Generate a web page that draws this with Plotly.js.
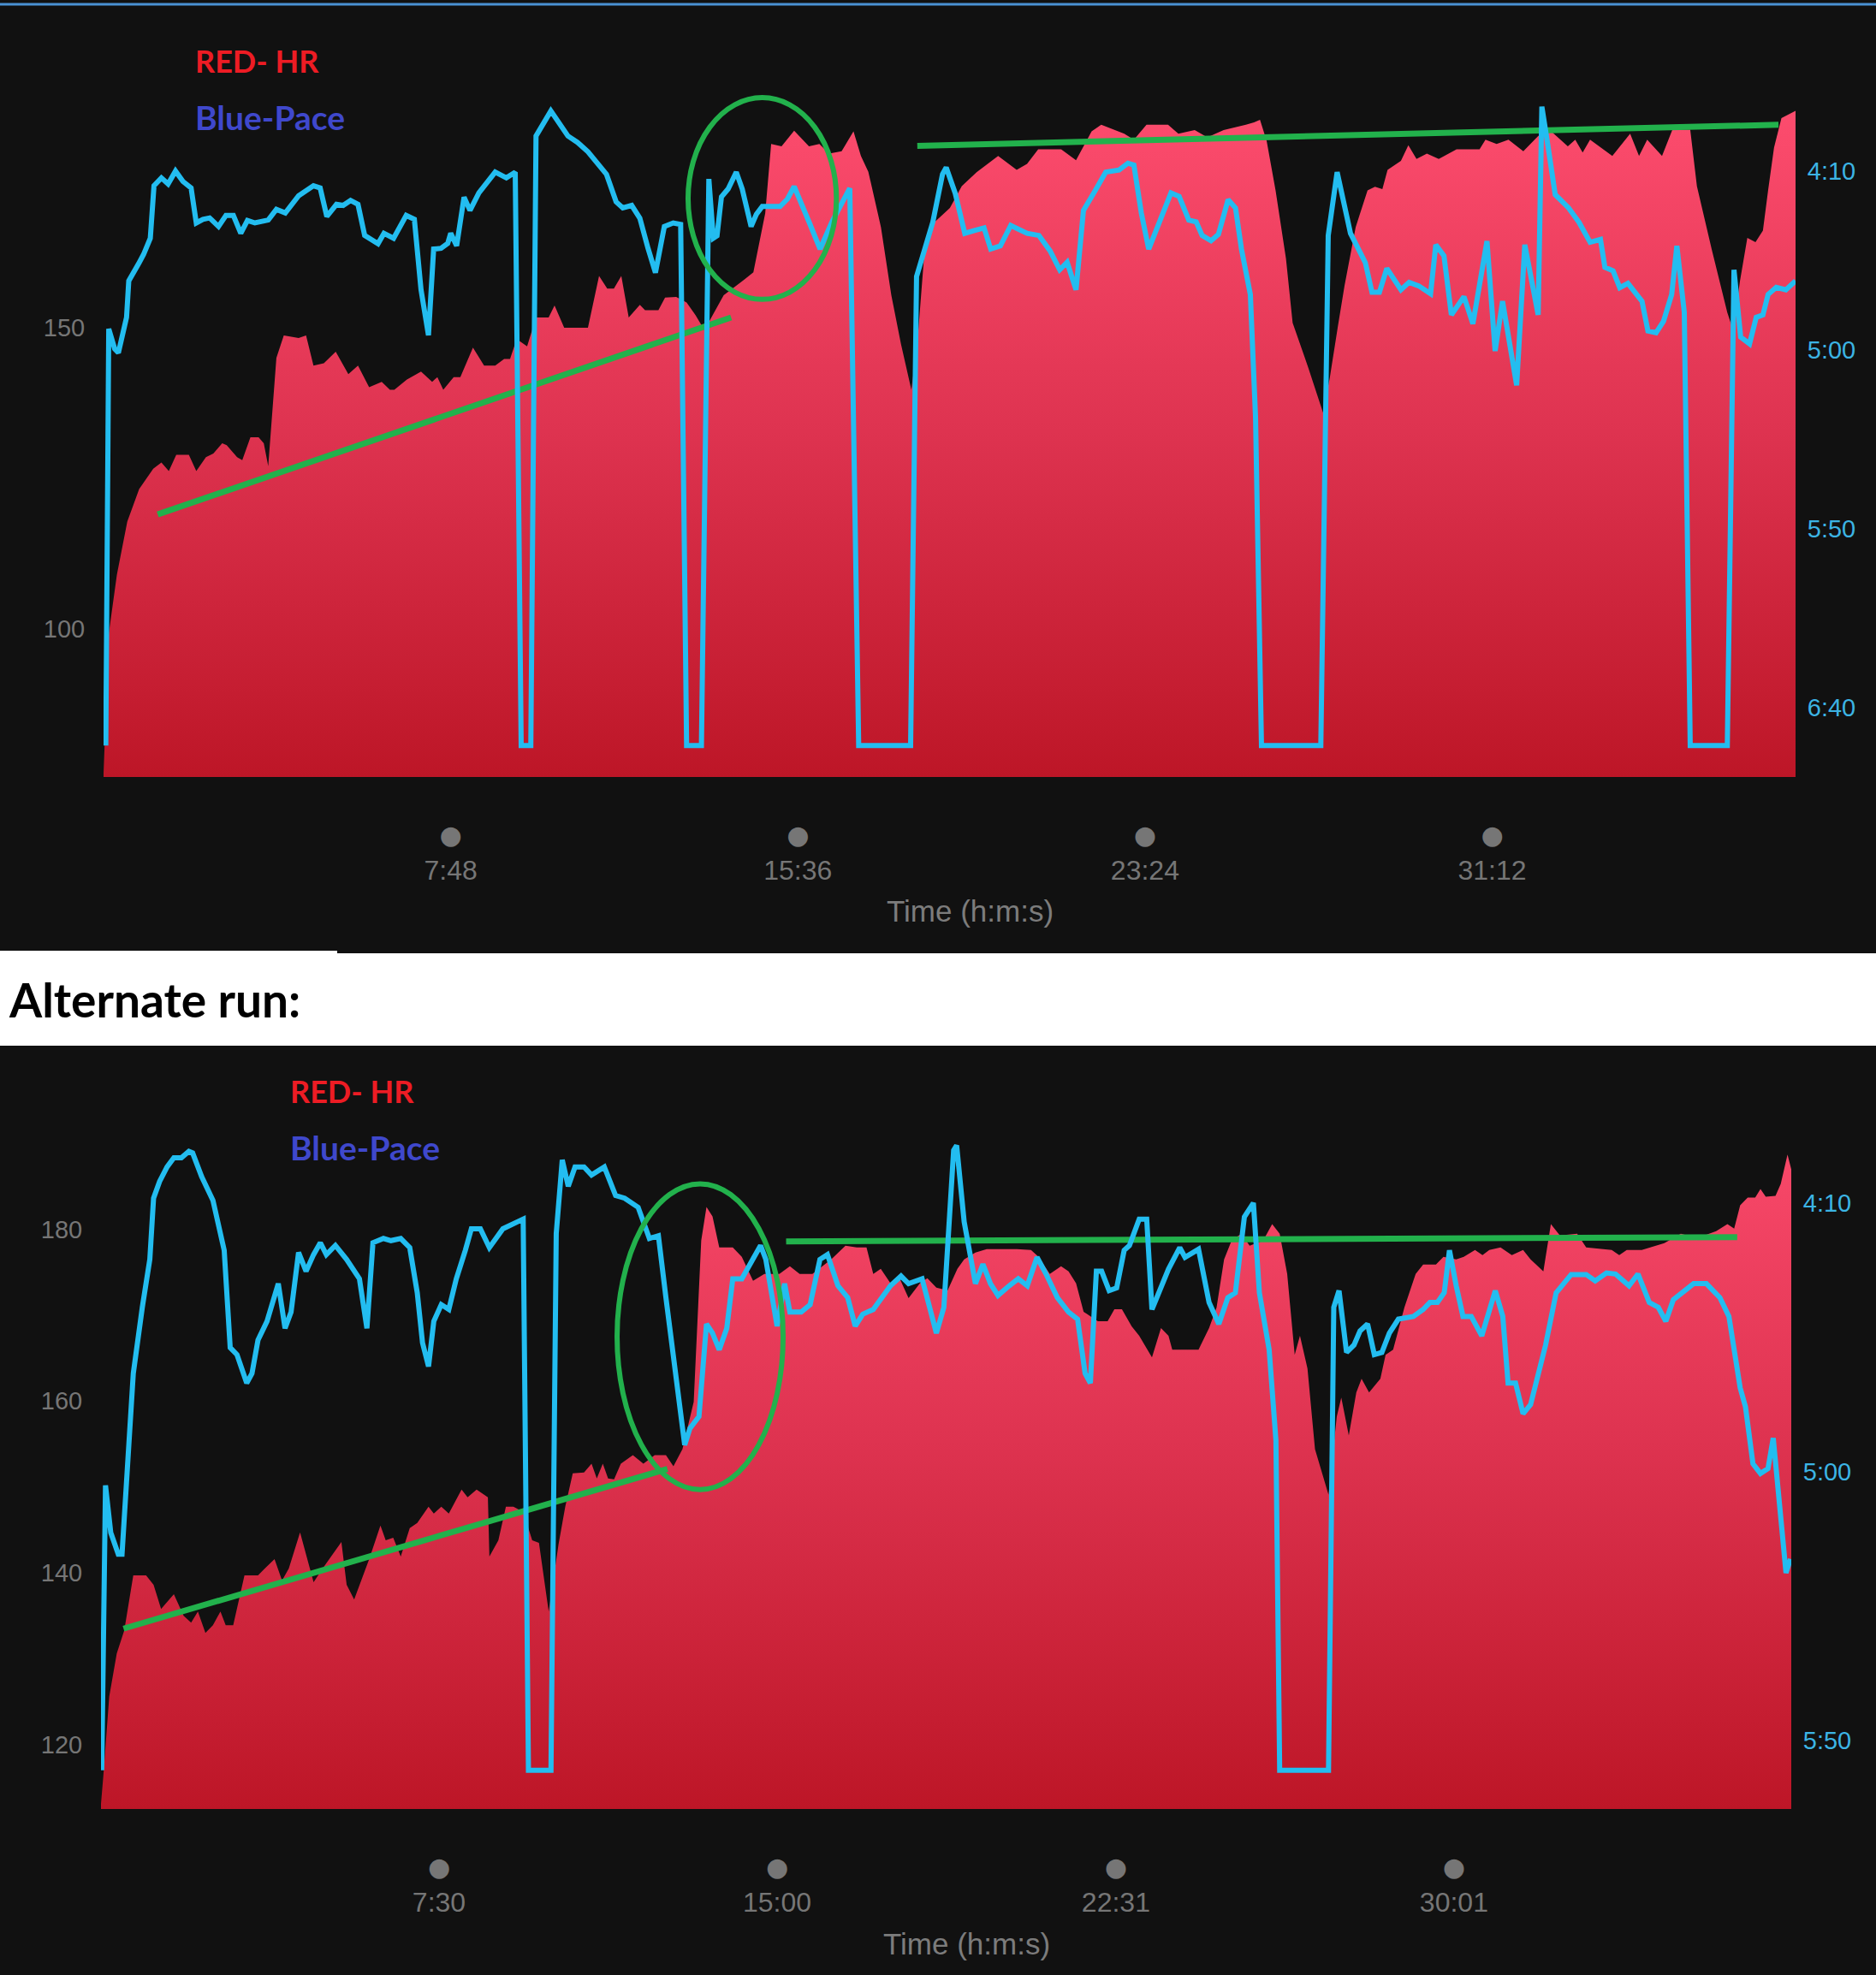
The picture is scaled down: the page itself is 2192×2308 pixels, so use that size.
<!DOCTYPE html>
<html>
<head>
<meta charset="utf-8">
<script src="https://cdn.plot.ly/plotly-3.0.1.min.js"></script>
<style>
html, body { margin: 0; padding: 0; background: #111111; }
#chart { width: 2192px; height: 2308px; }
</style>
</head>
<body>
<div id="chart"></div>
<script>
// ---------------- DATA (time in seconds, HR in bpm, pace in seconds per km) ----------------
// Top run
const topTimeHR = [0,7,18,32,48,67,78,88,98,115,125,138,148,160,166,180,187,198,209,216,222,233,243,263,273,283,297,313,330,343,358,375,386,392,409,428,443,450,458,472,481,498,513,528,540,548,557,571,583,600,608,621,653,668,679,688,698,708,723,730,748,757,772,786,798,810,836,863,876,892,900,914,931,951,965,978,995,1011,1021,1031,1048,1062,1075,1089,1097,1106,1121,1141,1157,1177,1206,1231,1245,1260,1291,1311,1332,1345,1376,1389,1406,1435,1449,1471,1488,1510,1540,1551,1559,1568,1580,1594,1603,1624,1644,1653,1664,1673,1688,1704,1714,1724,1731,1749,1759,1770,1784,1800,1824,1855,1863,1878,1894,1914,1934,1949,1974,1984,1994,2004,2034,2058,2070,2081,2101,2115,2139,2148,2168,2189,2197,2206,2216,2227,2237,2244,2252,2262,2281];
const topHR = [76,99.2,109,117.8,123.2,126.6,127.6,126.2,128.9,128.9,126.2,128.5,129.1,130.8,130.5,128.5,128,131.8,131.8,130.8,127,145,148.7,148.3,148.7,143.7,144.1,146,142.3,143.7,140.1,141,139.7,139.7,141.4,142.7,141,141.8,139.7,141.8,141.8,146.7,143.7,143.7,144.8,144.8,148.1,146.9,151.7,151.7,153.7,150,150,158.6,156.5,156.5,158.6,151.7,153.8,152.9,152.9,155,155.1,154.2,152.1,149.6,155.4,157.9,159.2,169,180.5,180.1,182.7,180.1,180.5,178.9,179.3,182.6,178.5,175.9,166.7,155.4,147.3,139.7,147.3,161.5,167.6,169.9,173.5,175.8,178.5,176.2,177.2,179.6,179.6,177.8,182.6,183.7,182.2,181.2,183.7,183.7,182.2,182.8,181.6,182.8,183.7,184.1,184.5,181,172.8,161.5,150.8,143.4,135.9,141.6,150.2,157,166.7,172.8,173.4,173,176.2,177.7,180.3,178,178.9,178,179.6,179.6,181.2,180.5,181.2,179.3,181.8,182.9,180.1,181.2,179.1,181.2,178.5,182.2,178.5,181.2,178.5,182.9,182.9,173.5,163,152.5,149.5,157.7,164.9,164.2,166.1,172.8,179.9,184.8,186];
const topTimePace = [3,7,15,20,31,34,48,54,63,68,78,87,97,107,118,125,134,143,155,165,175,185,194,204,222,233,245,263,283,292,301,314,323,333,343,352,370,378,391,408,419,428,438,445,455,464,468,476,486,494,506,528,543,555,563,576,583,603,626,639,653,678,691,700,712,723,734,744,756,768,778,786,806,816,822,827,833,842,853,861,873,880,888,912,922,931,951,966,982,1006,1018,1088,1096,1106,1118,1131,1136,1148,1161,1174,1187,1196,1209,1223,1245,1261,1276,1289,1299,1311,1321,1337,1351,1369,1381,1389,1399,1409,1427,1439,1450,1463,1473,1481,1493,1503,1516,1526,1534,1546,1553,1561,1641,1651,1663,1681,1701,1710,1720,1730,1749,1760,1773,1789,1796,1807,1817,1834,1846,1865,1876,1886,1905,1916,1934,1939,1946,1957,1975,1989,2004,2018,2024,2035,2044,2055,2074,2082,2093,2103,2114,2121,2131,2139,2189,2198,2207,2219,2228,2237,2244,2255,2268,2281];
const topPace = [410.5,294,299.6,300.7,290.8,280.6,275.5,273.2,268.7,254,251.8,253.5,249.9,252.8,254.6,264.4,263.4,263,265.4,262.3,262.3,267.3,263.7,264.4,263.6,260.6,261.6,256.8,254,254.6,262.6,259.2,259.5,258.1,259.2,267.9,270.2,267.3,268.7,262.3,263.4,283.1,295.8,271.7,271.5,270.1,267.3,270.8,257.2,260.9,256,250.2,251.8,250.2,410.5,410.5,240.1,233.1,240.1,241.9,244.5,250.8,258.5,260.2,259.5,263.1,271.5,278.3,265.4,264.4,264.8,410.5,410.5,252.1,268.7,268,257.1,254.9,250.2,254.9,265.4,262,259.8,259.8,257.7,254.2,264.1,271.7,264.1,254.7,410.5,410.5,279.4,272.9,264.1,250.8,248.9,256,267.3,266.5,265.8,271.7,270.8,265.1,267.3,267.9,272.2,277.5,275.4,283.1,260.9,255.3,250.2,249.6,247.7,248.2,261.6,271.7,262,256,257,263.6,264.1,267.9,269.4,267.6,257.9,260.2,271.7,284.4,318.6,410.5,410.5,267.9,250.2,267.3,275.5,283.8,283.8,277.1,283.1,281,282,284.2,270.5,273.6,290.1,285,292.6,269.5,300.2,286.3,309.8,270.5,290.1,231.9,241.2,256.5,260.2,264.2,269.8,269,276.8,277.8,282.5,281.3,286.3,294.6,295.1,291.9,284.4,270.8,289.4,410.5,410.5,277.5,296.3,298.2,290.8,290.1,284.4,282.4,283.1,280.6];
const topTickSeconds = [468, 936, 1404, 1872];
const topTickLabels = ['7:48', '15:36', '23:24', '31:12'];
const topHRTicks = [100, 150];
const topPaceTicks = [250, 300, 350, 400];
// green hand-drawn overlays (time, HR)
const topTrendAT = [73, 846];
const topTrendAHR = [119.0, 151.7];
const topTrendBT = [1097, 2258];
const topTrendBHR = [180.2, 183.7];
const topCircleT = [788, 988];
const topCircleHR = [154.7, 188.2];

// Alternate run
const botTimeHR = [0,3,11,21,31,43,60,70,80,97,110,120,129,139,149,159,166,176,191,209,218,231,241,250,265,283,295,320,327,337,357,372,379,389,399,411,421,436,443,453,463,480,488,500,515,517,529,539,549,562,574,583,594,596,609,618,628,643,653,660,668,675,683,692,708,722,737,752,762,774,789,799,806,814,823,841,853,868,883,903,917,930,947,972,991,1006,1019,1028,1038,1051,1063,1075,1090,1100,1112,1127,1140,1149,1164,1179,1219,1238,1248,1263,1278,1288,1298,1308,1327,1340,1349,1359,1372,1382,1399,1411,1421,1426,1461,1475,1485,1495,1505,1518,1529,1547,1559,1569,1579,1589,1596,1606,1616,1634,1645,1651,1661,1671,1678,1688,1703,1710,1720,1735,1750,1760,1777,1787,1804,1814,1829,1839,1848,1863,1878,1893,1903,1920,1930,1942,1965,1977,2011,2021,2031,2051,2081,2103,2125,2150,2165,2174,2182,2192,2202,2209,2216,2229,2236,2245,2250];
const botHR = [113.1,116.2,125.6,130.6,133.3,139.7,139.7,138.6,135.8,137.5,135,134.2,135.5,133,133.9,135.5,133.9,133.9,139.7,139.7,140.5,141.6,139.1,140.5,144.7,138.9,140.5,143.6,138.6,136.9,141.6,145.5,143.8,144.1,141.9,145.2,145.8,147.7,146.9,147.7,146.9,149.7,148.8,149.7,148.8,141.9,143.8,147.7,147.7,147.1,143.8,143.5,136.7,135.5,143.3,147.7,151.6,151.7,152.7,151,152.7,151,150.9,152.7,153.7,152.7,153.7,153.7,152.4,154.4,159.9,178.7,182.6,181.5,177.9,177.9,176.8,174,174.8,174.8,175.7,174.8,174.8,176.5,178.1,177.9,177.9,174.8,175.4,173.7,174.3,172,173.7,174.3,173.2,172.9,175.4,176.5,177.3,177.7,177.7,177.6,176.8,174.8,175.7,175.1,173.7,170.4,169.3,169.3,170.7,170.7,168.7,167.6,165.1,168.5,167.6,166,166,168.5,170.9,176.5,178.7,179.5,178.1,178.7,180.6,179.5,174.8,165.4,167.6,163.8,154.4,149.1,158.2,160.4,156,161,162.6,161,162.6,165.4,166,170.9,174.8,175.9,175.9,176.8,176.5,176.8,177.6,177,177.6,177.9,177,177.6,176.5,175.1,180.6,179.3,179.5,177.9,177.6,177,177.6,177.6,178.4,179.5,179,179.8,180.6,180.1,182.8,183.7,183.7,184.7,183.8,183.9,185.3,188.7,187];
const botTimePace = [1,6,13,18,23,28,36,43,55,65,70,78,88,97,107,117,122,134,149,164,172,181,194,201,209,221,236,245,253,263,273,283,292,300,312,327,344,354,362,376,386,399,411,421,428,436,443,453,463,473,485,493,505,517,535,552,562,569,599,606,614,622,631,643,653,670,685,697,715,730,742,752,762,772,777,784,796,806,814,823,833,841,853,878,885,900,910,917,932,944,957,967,981,994,1004,1014,1028,1051,1065,1075,1093,1103,1112,1122,1135,1139,1149,1164,1174,1184,1194,1209,1221,1233,1246,1258,1273,1288,1300,1310,1317,1325,1332,1342,1352,1362,1369,1382,1392,1399,1411,1421,1436,1443,1461,1475,1488,1500,1510,1522,1534,1542,1555,1564,1569,1634,1641,1648,1658,1668,1676,1686,1695,1705,1715,1727,1747,1760,1769,1779,1788,1795,1804,1813,1824,1838,1856,1866,1873,1883,1893,1903,1923,1937,1957,1977,1989,2004,2016,2034,2046,2061,2073,2083,2093,2108,2120,2137,2155,2167,2182,2189,2199,2209,2219,2226,2234,2243,2249];
const botPace = [355.5,302.5,311.3,313.5,315.3,315.3,295.9,281.7,269.4,260.5,249.1,246,243.3,241.6,241.6,240.4,240.7,245.1,249.5,258.8,276.9,278.2,283.5,281.7,275.5,272,265,273.3,270.3,259.2,262.7,259.6,257.4,259.6,257.9,260.5,264.1,273.3,257.4,256.6,257,256.6,258.3,266.7,276,280.4,272,268.9,269.8,264.1,258.8,254.8,254.8,258.3,254.8,253.5,253,355.5,355.5,255.7,242,246.9,243.3,243.3,244.8,243.3,248.6,249.1,250.8,256.6,256.1,267.6,278.2,290.6,295,291.9,289.7,272.5,274.2,277.3,273.3,264.1,264.1,257.9,260.5,272.9,265,270.3,270.3,268.9,260.5,259.6,265.4,267.6,272.9,270.7,269.8,265.4,263.6,265,264.1,269.4,274.2,269.4,240.2,239.3,253.5,265,261.4,265,267.2,265.4,264.1,265.4,260.1,263.2,267.6,270.3,271.6,281.7,283.5,262.7,262.7,266.3,265.8,258.8,257.9,253,253,269.8,265.4,262.3,258.3,260.1,258.6,268.5,272.5,267.6,266.7,252.6,250,266.7,277.3,294.1,355.5,355.5,269.4,266.3,277.8,276.4,273.8,272.5,278.2,277.8,274.2,271.6,271.1,269.8,268.5,268.5,266.7,258.8,265.4,271.1,271.1,274.7,266.3,271.1,283.5,283.5,289.2,287.5,276.4,266.7,263.3,263.3,264.5,263,263.2,265.4,263.2,268.5,269.4,272,268,266.3,265,265,267.6,271.1,284.4,287.9,298.5,300.3,299.4,293.7,304.7,318.8,316.2];
const botTickSeconds = [450, 900, 1351, 1801];
const botTickLabels = ['7:30', '15:00', '22:31', '30:01'];
const botHRTicks = [120, 140, 160, 180];
const botPaceTicks = [250, 300, 350];
const botTrendAT = [30, 754];
const botTrendAHR = [133.5, 152.1];
const botTrendBT = [912, 2178];
const botTrendBHR = [178.6, 179.1];
const botCircleT = [687, 908];
const botCircleHR = [149.7, 185.3];

const legendHRText = 'RED- HR';
const legendPaceText = 'Blue-Pace';
const midTitle = 'Alternate run:';
const xTitle = 'Time (h:m:s)';

// ---------------- helpers ----------------
function fmtPace(s) { const m = Math.floor(s / 60); const r = Math.round(s % 60); return m + ':' + (r < 10 ? '0' : '') + r; }
function dotLabels(arr) { return arr.map(l => '<span style="font-family:DejaVu Sans;font-size:30px">●</span><br>' + l); }

const W = 2192, H = 2308;
const px = v => v / W;          // horizontal pixel -> paper
const py = v => 1 - v / H;      // vertical pixel (from top) -> paper

const topHRRange = [75.4, 190.2];
const topPaceRange = [419.3, 226];
const botHRRange = [112.5, 198.1];
const botPaceRange = [362.7, 226];

const GREEN = '#22b14c';
const BLUE = '#23bdf0';
const gradScale = [[0, '#bd1627'], [0.5, '#de3350'], [1, '#ff4e70']];

const traces = [
  { x: topTimeHR, y: topHR, xaxis: 'x', yaxis: 'y', type: 'scatter', mode: 'none', fill: 'tozeroy',
    fillgradient: { type: 'vertical', colorscale: gradScale, start: topHRRange[0], stop: topHRRange[1] }, hoverinfo: 'skip' },
  { x: topTimePace, y: topPace, xaxis: 'x', yaxis: 'y2', type: 'scatter', mode: 'lines',
    line: { color: BLUE, width: 6 }, hoverinfo: 'skip' },
  { x: topTrendAT, y: topTrendAHR, xaxis: 'x', yaxis: 'y', type: 'scatter', mode: 'lines', line: { color: GREEN, width: 7 } },
  { x: topTrendBT, y: topTrendBHR, xaxis: 'x', yaxis: 'y', type: 'scatter', mode: 'lines', line: { color: GREEN, width: 7 } },

  { x: botTimeHR, y: botHR, xaxis: 'x2', yaxis: 'y3', type: 'scatter', mode: 'none', fill: 'tozeroy',
    fillgradient: { type: 'vertical', colorscale: gradScale, start: botHRRange[0], stop: botHRRange[1] }, hoverinfo: 'skip' },
  { x: botTimePace, y: botPace, xaxis: 'x2', yaxis: 'y4', type: 'scatter', mode: 'lines',
    line: { color: BLUE, width: 6 }, hoverinfo: 'skip' },
  { x: botTrendAT, y: botTrendAHR, xaxis: 'x2', yaxis: 'y3', type: 'scatter', mode: 'lines', line: { color: GREEN, width: 7 } },
  { x: botTrendBT, y: botTrendBHR, xaxis: 'x2', yaxis: 'y3', type: 'scatter', mode: 'lines', line: { color: GREEN, width: 7 } }
];

const tickFontX = { family: 'Liberation Sans, Arial, sans-serif', size: 32, color: '#767676' };
const tickFontY = { family: 'Liberation Sans, Arial, sans-serif', size: 29, color: '#767676' };
const tickFontP = { family: 'Liberation Sans, Arial, sans-serif', size: 29, color: '#3cb4e4' };
const clear = 'rgba(0,0,0,0)';
const baseAx = { showgrid: false, zeroline: false, showline: false, ticks: 'outside', tickcolor: clear, fixedrange: true, automargin: false };

const layout = {
  width: W, height: H,
  margin: { l: 0, r: 0, t: 0, b: 0, pad: 0 },
  paper_bgcolor: '#111111', plot_bgcolor: '#111111',
  showlegend: false,
  xaxis: Object.assign({}, baseAx, { domain: [px(121), px(2098)], anchor: 'y', range: [0, 2281],
    tickmode: 'array', tickvals: topTickSeconds, ticktext: dotLabels(topTickLabels), ticklen: 39, tickfont: tickFontX }),
  yaxis: Object.assign({}, baseAx, { domain: [py(908), py(100)], anchor: 'x', range: topHRRange,
    tickmode: 'array', tickvals: topHRTicks, ticktext: topHRTicks.map(String), ticklen: 15, tickfont: tickFontY }),
  yaxis2: Object.assign({}, baseAx, { overlaying: 'y', side: 'right', anchor: 'x', range: topPaceRange,
    tickmode: 'array', tickvals: topPaceTicks, ticktext: topPaceTicks.map(fmtPace), ticklen: 7, tickfont: tickFontP }),
  xaxis2: Object.assign({}, baseAx, { domain: [px(118), px(2093)], anchor: 'y3', range: [0, 2250],
    tickmode: 'array', tickvals: botTickSeconds, ticktext: dotLabels(botTickLabels), ticklen: 39, tickfont: tickFontX }),
  yaxis3: Object.assign({}, baseAx, { domain: [py(2114), py(1255)], anchor: 'x2', range: botHRRange,
    tickmode: 'array', tickvals: botHRTicks, ticktext: botHRTicks.map(String), ticklen: 15, tickfont: tickFontY }),
  yaxis4: Object.assign({}, baseAx, { overlaying: 'y3', side: 'right', anchor: 'x2', range: botPaceRange,
    tickmode: 'array', tickvals: botPaceTicks, ticktext: botPaceTicks.map(fmtPace), ticklen: 7, tickfont: tickFontP }),
  shapes: [
    { type: 'line', xref: 'paper', yref: 'paper', x0: 0, x1: 1, y0: py(5), y1: py(5), line: { color: '#4a92d4', width: 3 } },
    { type: 'rect', xref: 'paper', yref: 'paper', x0: 0, x1: px(394), y0: py(1222), y1: py(1111), fillcolor: '#ffffff', line: { width: 0 }, layer: 'below' },
    { type: 'rect', xref: 'paper', yref: 'paper', x0: px(394), x1: 1, y0: py(1222), y1: py(1114), fillcolor: '#ffffff', line: { width: 0 }, layer: 'below' },
    { type: 'circle', xref: 'x', yref: 'y', x0: topCircleT[0], x1: topCircleT[1], y0: topCircleHR[0], y1: topCircleHR[1], line: { color: GREEN, width: 6 } },
    { type: 'circle', xref: 'x2', yref: 'y3', x0: botCircleT[0], x1: botCircleT[1], y0: botCircleHR[0], y1: botCircleHR[1], line: { color: GREEN, width: 6 } }
  ],
  annotations: [
    { text: legendHRText, xref: 'paper', yref: 'paper', x: px(226), y: py(71), xanchor: 'left', yanchor: 'middle', showarrow: false,
      font: { family: 'Lato, sans-serif', size: 36, color: '#ed1c24', weight: 'bold' } },
    { text: legendPaceText, xref: 'paper', yref: 'paper', x: px(226), y: py(137), xanchor: 'left', yanchor: 'middle', showarrow: false,
      font: { family: 'Lato, sans-serif', size: 39, color: '#3f48cc', weight: 'bold' } },
    { text: legendHRText, xref: 'paper', yref: 'paper', x: px(337), y: py(1275), xanchor: 'left', yanchor: 'middle', showarrow: false,
      font: { family: 'Lato, sans-serif', size: 36, color: '#ed1c24', weight: 'bold' } },
    { text: legendPaceText, xref: 'paper', yref: 'paper', x: px(337), y: py(1341), xanchor: 'left', yanchor: 'middle', showarrow: false,
      font: { family: 'Lato, sans-serif', size: 39, color: '#3f48cc', weight: 'bold' } },
    { text: midTitle, xref: 'paper', yref: 'paper', x: px(8), y: py(1168), xanchor: 'left', yanchor: 'middle', showarrow: false,
      font: { family: 'Lato, sans-serif', size: 55, color: '#000000', weight: 'bold' } },
    { text: xTitle, xref: 'paper', yref: 'paper', x: px(1133), y: py(1064), xanchor: 'center', yanchor: 'middle', showarrow: false,
      font: { family: 'Liberation Sans, Arial, sans-serif', size: 35, color: '#7c7c7c' } },
    { text: xTitle, xref: 'paper', yref: 'paper', x: px(1129), y: py(2271), xanchor: 'center', yanchor: 'middle', showarrow: false,
      font: { family: 'Liberation Sans, Arial, sans-serif', size: 35, color: '#7c7c7c' } }
  ]
};

Plotly.newPlot('chart', traces, layout, { staticPlot: true, displayModeBar: false });
</script>
</body>
</html>
